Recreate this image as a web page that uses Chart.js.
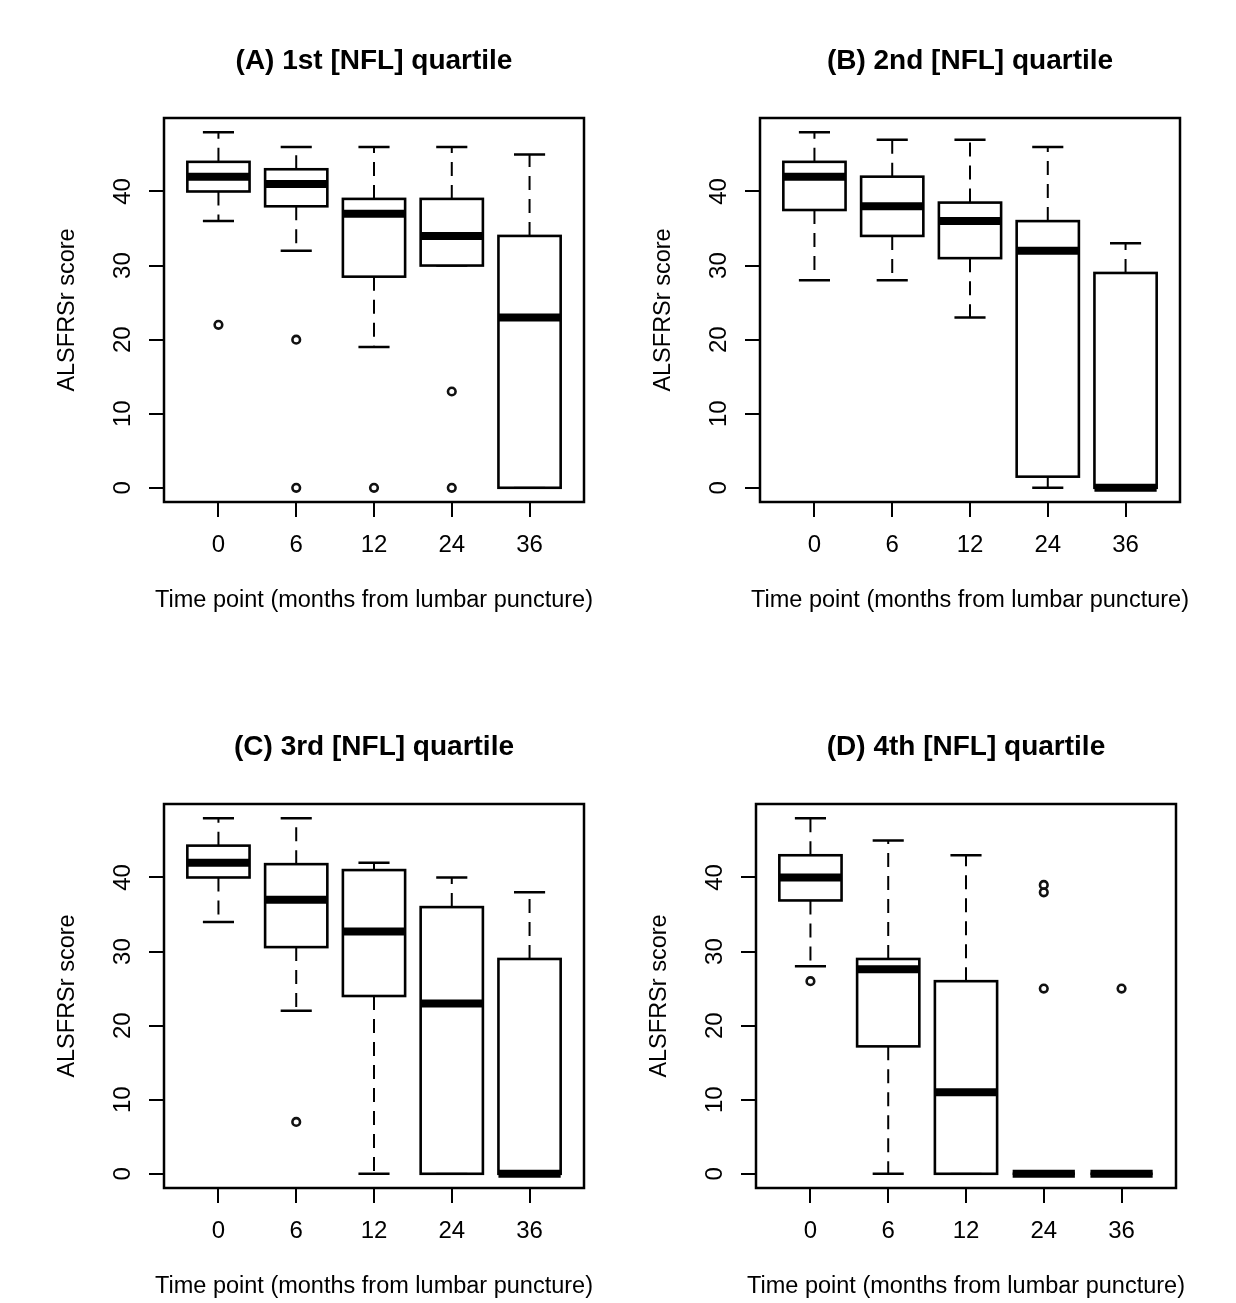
<!DOCTYPE html>
<html>
<head>
<meta charset="utf-8">
<script src="https://cdn.jsdelivr.net/npm/chart.js@4.4.1/dist/chart.umd.min.js"></script>
<style>
html,body{margin:0;padding:0;background:#fff;width:1236px;height:1303px;overflow:hidden;position:relative}
canvas{position:absolute}
</style>
</head>
<body>
<canvas id="cA" width="618" height="617" style="left:0px;top:0px"></canvas>
<canvas id="cB" width="618" height="617" style="left:596px;top:0px"></canvas>
<canvas id="cC" width="618" height="617" style="left:0px;top:686px"></canvas>
<canvas id="cD" width="618" height="617" style="left:592px;top:686px"></canvas>
<script>
// ---- data ----
const timeLabels = ['0', '6', '12', '24', '36'];
const yTicks = [0, 10, 20, 30, 40];
const yRange = [0, 48];
const xTitle = 'Time point (months from lumbar puncture)';
const yTitle = 'ALSFRSr score';
const titles = ['(A) 1st [NFL] quartile', '(B) 2nd [NFL] quartile', '(C) 3rd [NFL] quartile', '(D) 4th [NFL] quartile'];

// five-number summaries per time point: [lower whisker, Q1, median, Q3, upper whisker]
const statsA = [[36, 40, 42, 44, 48], [32, 38, 41, 43, 46], [19, 28.5, 37, 39, 46], [30, 30, 34, 39, 46], [0, 0, 23, 34, 45]];
const statsB = [[28, 37.5, 42, 44, 48], [28, 34, 38, 42, 47], [23, 31, 36, 38.5, 47], [0, 1.5, 32, 36, 46], [0, 0, 0, 29, 33]];
const statsC = [[34, 40, 42, 44.3, 48], [22, 30.6, 37, 41.8, 48], [0, 24, 32.7, 41, 42], [0, 0, 23, 36, 40], [0, 0, 0, 29, 38]];
const statsD = [[28, 36.9, 40, 43, 48], [0, 17.2, 27.6, 29, 45], [0, 0, 11, 26, 43], [0, 0, 0, 0, 0], [0, 0, 0, 0, 0]];

// outliers per time point
const outliersA = [[22], [20, 0], [0], [13, 0], []];
const outliersB = [[], [], [], [], []];
const outliersC = [[], [7], [], [], []];
const outliersD = [[26], [], [], [39, 38, 25], [25]];

// ---- rendering ----
const FONT = "'Liberation Sans', Arial, sans-serif";
const BOX_HALF = 0.4;
const STAPLE_HALF = 0.2;

const boxPlugin = {
  id: 'boxParts',
  beforeDatasetsDraw(chart) {
    const stats = chart.options.plugins.boxParts.stats;
    const xs = chart.scales.x, ys = chart.scales.y;
    const ctx = chart.ctx;
    ctx.save();
    ctx.strokeStyle = '#000';
    stats.forEach((s, i) => {
      const cx = xs.getPixelForValue(i + 1);
      const sh = xs.getPixelForValue(i + 1 + STAPLE_HALF) - cx;
      // dashed whiskers
      ctx.lineWidth = 2;
      ctx.setLineDash([14, 9]);
      ctx.beginPath();
      ctx.moveTo(cx, ys.getPixelForValue(s[3]));
      ctx.lineTo(cx, ys.getPixelForValue(s[4]));
      ctx.moveTo(cx, ys.getPixelForValue(s[1]));
      ctx.lineTo(cx, ys.getPixelForValue(s[0]));
      ctx.stroke();
      // staples
      ctx.setLineDash([]);
      ctx.lineWidth = 2.5;
      ctx.beginPath();
      ctx.moveTo(cx - sh, ys.getPixelForValue(s[4]));
      ctx.lineTo(cx + sh, ys.getPixelForValue(s[4]));
      ctx.moveTo(cx - sh, ys.getPixelForValue(s[0]));
      ctx.lineTo(cx + sh, ys.getPixelForValue(s[0]));
      ctx.stroke();
    });
    ctx.restore();
  },
  afterDatasetsDraw(chart) {
    const stats = chart.options.plugins.boxParts.stats;
    const xs = chart.scales.x, ys = chart.scales.y;
    const ctx = chart.ctx;
    ctx.save();
    ctx.strokeStyle = '#000';
    // box outlines, centred on the box edges (bar element x/width, Q1/Q3 via y scale)
    ctx.lineWidth = 2.6;
    chart.getDatasetMeta(0).data.forEach((el, i) => {
      const p = el.getProps(['x', 'width'], true);
      const top = ys.getPixelForValue(stats[i][3]);
      const bot = ys.getPixelForValue(stats[i][1]);
      ctx.strokeRect(p.x - p.width / 2, top, p.width, bot - top);
    });
    // medians
    ctx.lineWidth = 8;
    ctx.lineCap = 'butt';
    stats.forEach((s, i) => {
      const l = xs.getPixelForValue(i + 1 - BOX_HALF);
      const r = xs.getPixelForValue(i + 1 + BOX_HALF);
      const y = ys.getPixelForValue(s[2]);
      ctx.beginPath();
      ctx.moveTo(l, y);
      ctx.lineTo(r, y);
      ctx.stroke();
    });
    // plot frame
    const a = chart.chartArea;
    ctx.lineWidth = 2.5;
    ctx.strokeRect(a.left, a.top, a.right - a.left, a.bottom - a.top);
    ctx.restore();
  },
  afterDraw(chart) {
    // x-axis title (drawn here so it is not squeezed to the plot width)
    const a = chart.chartArea;
    const ctx = chart.ctx;
    ctx.save();
    ctx.fillStyle = '#000';
    ctx.font = "23.5px " + FONT;
    ctx.textAlign = 'center';
    ctx.textBaseline = 'alphabetic';
    ctx.fillText(xTitle, (a.left + a.right) / 2, a.bottom + 105);
    ctx.restore();
  }
};

function makePanel(id, title, stats, outliers) {
  const boxData = stats.map((s, i) => ({x: i + 1, y: [s[1], s[3]]}));
  const outData = [];
  outliers.forEach((arr, i) => arr.forEach(v => outData.push({x: i + 1, y: v})));
  const ySpan = yRange[1] - yRange[0];
  const n = timeLabels.length;
  return new Chart(document.getElementById(id), {
    type: 'bar',
    data: {
      datasets: [
        {
          type: 'bar',
          data: boxData,
          backgroundColor: '#fff',
          borderWidth: 0,
          borderSkipped: false,
          categoryPercentage: 1,
          barPercentage: 0.8,
          order: 2
        },
        {
          type: 'scatter',
          data: outData,
          pointStyle: 'circle',
          pointRadius: 3.8,
          pointBorderWidth: 2.6,
          pointBorderColor: '#111',
          pointBackgroundColor: 'rgba(0,0,0,0)',
          order: 1
        }
      ]
    },
    options: {
      responsive: false,
      animation: false,
      devicePixelRatio: 1,
      layout: {padding: {left: 0, right: 34, top: 0, bottom: 0}},
      plugins: {
        legend: {display: false},
        tooltip: {enabled: false},
        title: {
          display: true,
          text: title,
          color: '#000',
          fullSize: false,
          font: {family: FONT, size: 28, weight: 'bold'},
          padding: {top: 44.2, bottom: 40.2}
        },
        boxParts: {stats: stats}
      },
      scales: {
        x: {
          type: 'linear',
          offset: false,
          min: 0.5 - 0.04 * n,
          max: n + 0.5 + 0.04 * n,
          afterBuildTicks: s => { s.ticks = timeLabels.map((_, i) => ({value: i + 1})); },
          afterFit: s => { s.height = 115; },
          grid: {display: true, offset: false, drawOnChartArea: false, drawTicks: true, tickLength: 15, color: '#000', lineWidth: 2},
          border: {display: false},
          ticks: {
            autoSkip: false,
            maxRotation: 0,
            padding: 14,
            color: '#000',
            font: {family: FONT, size: 24},
            callback: (v, i) => timeLabels[i]
          },
          title: {display: false}
        },
        y: {
          type: 'linear',
          min: yRange[0] - 0.04 * ySpan,
          max: yRange[1] + 0.04 * ySpan,
          afterBuildTicks: s => { s.ticks = yTicks.map(v => ({value: v})); },
          afterFit: s => { s.width = 164; },
          grid: {display: true, drawOnChartArea: false, drawTicks: true, tickLength: 15, color: '#000', lineWidth: 2},
          border: {display: false},
          ticks: {
            minRotation: 90,
            maxRotation: 90,
            crossAlign: 'center',
            padding: 12.7,
            color: '#000',
            font: {family: FONT, size: 24},
            callback: v => String(v)
          },
          title: {
            display: true,
            text: yTitle,
            color: '#000',
            font: {family: FONT, size: 23.5},
            padding: {top: 53.9, bottom: 0}
          }
        }
      }
    },
    plugins: [boxPlugin]
  });
}

makePanel('cA', titles[0], statsA, outliersA);
makePanel('cB', titles[1], statsB, outliersB);
makePanel('cC', titles[2], statsC, outliersC);
makePanel('cD', titles[3], statsD, outliersD);
</script>
</body>
</html>
